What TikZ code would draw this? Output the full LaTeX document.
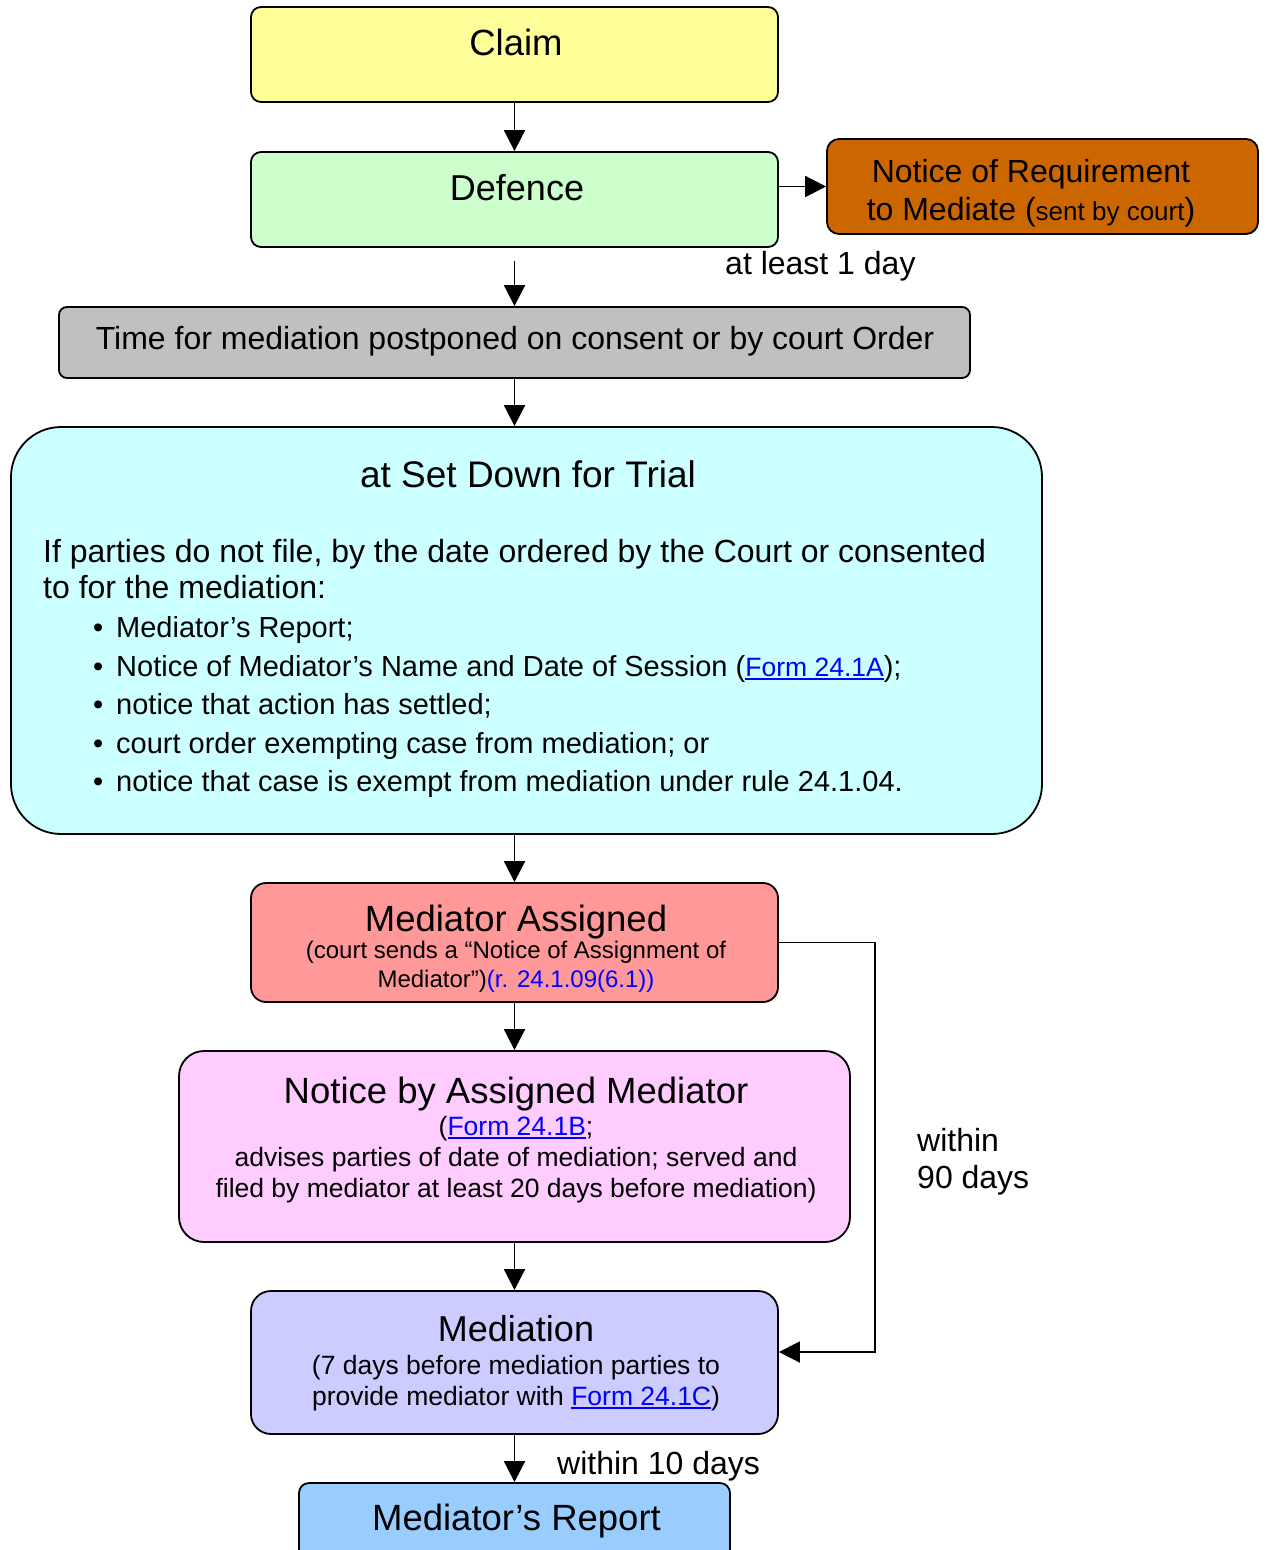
\documentclass[tikz,border=0pt]{standalone}
\usepackage{fontspec}
\setmainfont{Liberation Sans}
\usetikzlibrary{arrows.meta}
\definecolor{cClaim}{HTML}{FFFF99}
\definecolor{cDef}{HTML}{CCFFCC}
\definecolor{cNrm}{HTML}{CC6600}
\definecolor{cGrey}{HTML}{C0C0C0}
\definecolor{cCyan}{HTML}{CCFFFF}
\definecolor{cMa}{HTML}{FF9999}
\definecolor{cNam}{HTML}{FFCCFF}
\definecolor{cMed}{HTML}{CCCCFF}
\definecolor{cRep}{HTML}{99CCFF}
\definecolor{linkblue}{HTML}{0000FF}
\newcommand\fsz[1]{\fontsize{#1}{#1}\selectfont}
\newcommand\ulnk[1]{{\color{linkblue}\setbox0\hbox{#1}\rlap{\rule[-3.5pt]{\wd0}{1.6pt}}\box0}}
\begin{document}
\begin{tikzpicture}[x=1pt,y=-1pt,
  box/.style={draw=black, line width=1.8pt, inner sep=0pt, rectangle},
  arr/.style={line width=1.8pt, -{Triangle[length=21pt,width=21pt]}},
  txt/.style={inner sep=0pt, anchor=base},
  txtl/.style={inner sep=0pt, anchor=base west}]
\useasboundingbox (0,0) rectangle (1266,1550);
\clip (0,0) rectangle (1266,1550);
% boxes
\node[box, fill=cClaim, rounded corners=10pt, minimum width=527pt, minimum height=95pt] (claim) at (514.5,54.5) {};
\node[box, fill=cDef, rounded corners=10pt, minimum width=527pt, minimum height=95pt] (def) at (514.5,199.5) {};
\node[box, fill=cNrm, rounded corners=12pt, minimum width=431pt, minimum height=95pt] (nrm) at (1042.5,186.5) {};
\node[box, fill=cGrey, rounded corners=8pt, minimum width=911pt, minimum height=71pt] (grey) at (514.5,342.5) {};
\node[box, fill=cCyan, rounded corners=50pt, minimum width=1031pt, minimum height=407pt] (cyan) at (526.5,630.5) {};
\node[box, fill=cMa, rounded corners=15pt, minimum width=527pt, minimum height=119pt] (ma) at (514.5,942.5) {};
\node[box, fill=cNam, rounded corners=25pt, minimum width=671pt, minimum height=191pt] (nam) at (514.5,1146.5) {};
\node[box, fill=cMed, rounded corners=20pt, minimum width=527pt, minimum height=143pt] (med) at (514.5,1362.5) {};
\node[box, fill=cRep, rounded corners=10pt, minimum width=431pt, minimum height=77pt] (rep) at (514.5,1521.5) {};
\coordinate (gstart) at ([yshift=-13pt]def.south);
\coordinate (medin) at ([yshift=10.5pt]med.east);
% connectors
\draw[arr] (claim.south) -- (def.north);
\draw[arr] (def.east |- nrm.west) -- (nrm.west);
\draw[arr] (gstart) -- (gstart |- grey.north);
\draw[arr] (grey.south) -- (grey.south |- cyan.north);
\draw[arr] (cyan.south -| ma.north) -- (ma.north);
\draw[arr] (ma.south) -- (nam.north);
\draw[arr] (nam.south) -- (med.north);
\draw[arr] (med.south) -- (rep.north);
\draw[arr] (ma.east) -- (875,942.5) |- (medin);
% texts
\node[txt] (tClaim) at (516,55) {\fsz{36.5}Claim};
\node[txt] (tDef) at (517,200) {\fsz{36}Defence};
\node[txt] (tN1) at (1031,182.5) {\fsz{32}Notice of Requirement};
\node[txt] (tN2) at (1031,220) {\fsz{32}to Mediate (\fsz{26}sent by court\fsz{32})};
\node[txtl] (tLeast) at (725,274.5) {\fsz{32}at least 1 day};
\node[txt] (tGrey) at (515,349.5) {\fsz{32}Time for mediation postponed on consent or by court Order};
\node[txt] (tSet) at (528,487) {\fsz{37}at Set Down for Trial};
\node[txtl] (p1) at (43,562) {\fsz{32}If parties do not file, by the date ordered by the Court or consented};
\node[txtl] (p2) at (43,598) {\fsz{32}to for the mediation:};
\node[txtl] (b1) at (93,637.5) {\fsz{29}\makebox[23pt][l]{•}Mediator’s Report;};
\node[txtl] (b2) at (93,676.5) {\fsz{29}\makebox[23pt][l]{•}Notice of Mediator’s Name and Date of Session (\ulnk{\fsz{26.5}Form 24.1A});};
\node[txtl] (b3) at (93,714.5) {\fsz{29}\makebox[23pt][l]{•}notice that action has settled;};
\node[txtl] (b4) at (93,753.5) {\fsz{29}\makebox[23pt][l]{•}court order exempting case from mediation; or};
\node[txtl] (b5) at (93,791.5) {\fsz{29}\makebox[23pt][l]{•}notice that case is exempt from mediation under rule 24.1.04.};
\node[txt] (tMa) at (516,931) {\fsz{36.5}Mediator Assigned};
\node[txt] (tMa1) at (516,958) {\fsz{24}(court sends a “Notice of Assignment of};
\node[txt] (tMa2) at (516,987) {\fsz{24}Mediator”){\color{linkblue}(r. 24.1.09(6.1))}};
\node[txt] (tNam) at (516,1103) {\fsz{36.5}Notice by Assigned Mediator};
\node[txt] (tNam1) at (516,1135.5) {\fsz{26.5}(\ulnk{Form 24.1B};};
\node[txt] (tNam2) at (516,1166.5) {\fsz{26.5}advises parties of date of mediation; served and};
\node[txt] (tNam3) at (516,1197.5) {\fsz{26.5}filed by mediator at least 20 days before mediation)};
\node[txtl] (tW1) at (917,1151.5) {\fsz{32}within};
\node[txtl] (tW2) at (917,1188.5) {\fsz{32}90 days};
\node[txt] (tMed) at (516,1341) {\fsz{36}Mediation};
\node[txt] (tMed1) at (516,1374.5) {\fsz{26.5}(7 days before mediation parties to};
\node[txt] (tMed2) at (516,1405.5) {\fsz{26.5}provide mediator with \ulnk{Form 24.1C})};
\node[txtl] (tW10) at (557,1474.5) {\fsz{32}within 10 days};
\node[txt] (tRep) at (516.5,1530) {\fsz{36.5}Mediator’s Report};
\end{tikzpicture}
\end{document}
